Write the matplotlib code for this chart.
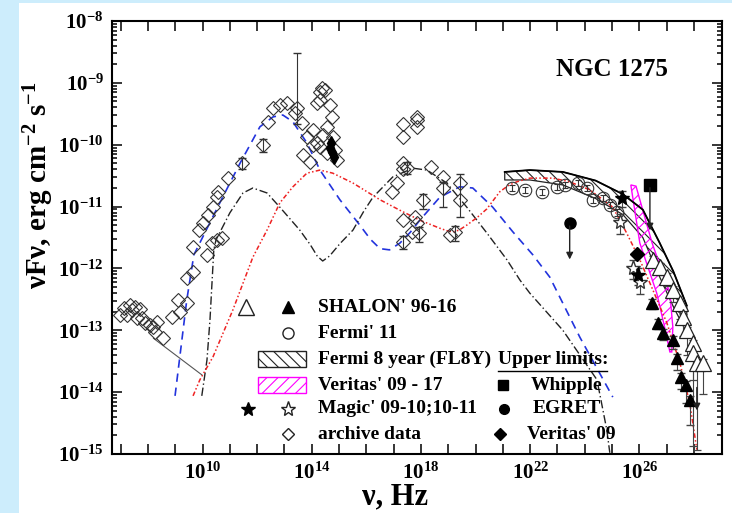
import numpy as np
import matplotlib.pyplot as plt
from matplotlib.patches import Rectangle, Polygon

plt.rcParams['font.family'] = 'Liberation Serif'
plt.rcParams['font.weight'] = 'bold'
plt.rcParams['mathtext.fontset'] = 'custom'
plt.rcParams['mathtext.rm'] = 'Liberation Serif:bold'
plt.rcParams['mathtext.it'] = 'Liberation Serif:bold'
plt.rcParams['mathtext.bf'] = 'Liberation Serif:bold'
plt.rcParams['mathtext.default'] = 'rm'
plt.rcParams['hatch.linewidth'] = 0.8

# ---- model curves (log10 nu, log10 nuFnu) ----
blue_x = [8.99, 9.42, 9.68, 10.63, 11.37, 12.10, 12.58, 12.94, 13.31, 13.82, 14.30, 15.03, 15.76, 16.15,
          16.50, 16.85, 17.23, 17.60, 17.96, 18.69, 19.42, 19.90, 20.63, 21.37, 22.10, 22.72, 23.82, 25.03]
blue_y = [-14.06, -12.51, -11.78, -10.94, -10.30, -9.71, -9.55, -9.52, -9.63, -9.97, -10.41, -10.89, -11.30, -11.53,
          -11.68, -11.70, -11.59, -11.42, -11.22, -10.85, -10.68, -10.70, -11.01, -11.41, -11.78, -12.14, -13.11, -14.08]

black_x = [9.97, 10.16, 10.27, 10.41, 10.49, 11.00, 11.48, 11.84, 12.36, 12.83, 13.56, 13.95, 14.20, 14.40, 14.65,
           15.03, 15.51, 15.90, 16.24, 16.97, 17.71, 18.22, 18.95, 19.68, 20.42, 21.15, 21.63, 21.99, 23.20, 24.45,
           24.81, 24.92]
black_y = [-14.06, -13.48, -12.83, -11.70, -11.54, -11.10, -10.78, -10.70, -10.78, -11.01, -11.38, -11.62, -11.80, -11.88, -11.80,
           -11.60, -11.38, -11.08, -10.85, -10.52, -10.38, -10.41, -10.62, -11.01, -11.43, -11.86, -12.19, -12.40, -13.00, -13.80,
           -14.61, -14.98]

red_x = [9.65, 9.90, 10.38, 11.11, 11.84, 12.36, 12.83, 13.31, 13.82, 14.30, 14.77, 15.51, 16.50, 17.23, 17.96,
         18.69, 18.95, 19.17, 19.40, 19.68, 20.05, 20.41, 20.65, 20.89, 21.20, 21.51, 21.99, 22.83, 23.45, 24.19,
         25.03, 25.54, 26.02, 26.50, 27.01, 27.49, 27.85, 28.11]
red_y = [-14.06, -13.80, -13.43, -12.67, -11.82, -11.38, -10.94, -10.68, -10.46, -10.41, -10.46, -10.62, -10.89, -11.06, -11.22,
         -11.35, -11.39, -11.41, -11.38, -11.30, -11.18, -11.04, -10.90, -10.76, -10.66, -10.60, -10.54, -10.54, -10.60, -10.73,
         -11.01, -11.43, -11.86, -12.35, -12.88, -13.53, -14.18, -14.93]

radio_fit_x = [8.20, 9.97]
radio_fit_y = [-13.13, -13.72]

# Fermi 8 year (FL8Y) band
fl8y_x = [21.07, 21.99, 23.20, 24.40, 25.40, 26.13, 26.75, 27.25, 27.74]
fl8y_hi = [-10.44, -10.41, -10.44, -10.58, -10.80, -11.05, -11.59, -12.05, -12.60]
fl8y_lo = [-10.57, -10.57, -10.65, -10.87, -11.13, -11.50, -12.14, -12.62, -13.04]

# Veritas' 09-17 bowtie outline
ver_x = [25.88, 26.47, 27.12, 27.23, 27.19, 27.12, 26.93, 26.64, 26.02, 25.69]
ver_y = [-10.67, -11.59, -12.40, -12.95, -13.35, -13.35, -12.95, -12.40, -11.59, -10.65]

# ---- data ----
fermi11_x = [21.33, 21.81, 22.43, 22.98, 23.28, 23.75, 24.08, 24.30, 24.67, 24.92, 25.18]
fermi11_y = [-10.70, -10.73, -10.76, -10.68, -10.65, -10.62, -10.70, -10.89, -10.86, -10.97, -11.09]

shalon_open_x = [26.50, 26.76, 27.01, 27.23, 27.49, 27.60, 27.74, 27.96, 27.96, 28.11, 28.33]
shalon_open_y = [-11.86, -11.98, -12.14, -12.35, -12.56, -12.79, -13.00, -13.21, -13.37, -13.53, -13.53]
shalon_open_err = [0.10, 0.12, 0.15, 0.20, 0.25, 0.30, 0.40, 0.60, 1.50, 1.40, 0.50]

shalon_fill_x = [26.46, 26.68, 26.86, 27.23, 27.38, 27.53, 27.70, 27.85]
shalon_fill_y = [-12.56, -12.88, -13.04, -13.16, -13.45, -13.75, -13.88, -14.13]
shalon_fill_err = [0.10, 0.10, 0.12, 0.15, 0.20, 0.20, 0.30, 0.40]

magic_fill_x = [25.37, 25.95]
magic_fill_y = [-10.86, -12.11]
magic_open_x = [25.29, 25.78, 26.03]
magic_open_y = [-11.25, -11.99, -12.22]

veritas09_x = [25.92]
veritas09_y = [-11.76]

whipple_x, whipple_y, whipple_to = [26.39], [-10.65], [-11.43]
egret_x, egret_y, egret_to = [23.45], [-11.27], [-11.90]
ul_x, ul_y, ul_to = [28.11], [-13.88], [-14.34]

archive_x = [6.97, 7.12, 7.23, 7.34, 7.41, 7.52, 7.70, 7.59, 7.78, 7.89, 8.07, 8.18, 8.26, 8.54, 8.33,
             8.88, 9.17, 9.10, 9.42, 9.42, 9.64, 10.16, 9.64, 9.86, 10.01, 10.19, 10.38, 10.52, 10.56, 10.93,
             11.44, 10.34, 10.52, 10.71, 12.21, 12.39, 12.58, 12.83, 13.09, 13.45, 13.38, 13.64, 13.82, 14.04,
             14.30, 14.38, 14.19, 14.30, 14.67, 14.74, 14.56, 14.78, 14.19, 13.67, 13.93, 14.30, 14.56, 14.92,
             14.85, 14.49, 14.04, 14.41,
             17.35, 17.35, 17.86, 17.86, 17.86, 17.35, 17.35, 17.49, 18.37, 17.13, 16.94, 18.81, 19.43, 18.07,
             17.35, 17.79, 17.86, 17.93, 17.67, 17.35, 19.06, 19.24, 19.43, 18.81]
archive_y = [-12.75, -12.64, -12.75, -12.59, -12.67, -12.62, -12.66, -12.80, -12.80, -12.88, -12.91, -12.95, -13.03, -13.12, -12.87,
             -12.79, -12.71, -12.51, -12.56, -12.15, -12.06, -11.78, -11.65, -11.38, -11.27, -11.14, -11.01, -10.85, -10.76, -10.54,
             -10.30, -11.59, -11.54, -11.51, -10.00, -9.63, -9.41, -9.36, -9.33, -9.41, -9.49, -9.65, -9.88, -9.76,
             -9.15, -9.08, -9.33, -9.28, -9.36, -9.55, -9.71, -9.88, -9.97, -10.17, -10.28, -10.04, -10.13, -10.25,
             -10.09, -9.12, -10.00, -9.84,
             -9.67, -9.88, -9.55, -9.60, -9.71, -10.30, -10.39, -10.38, -10.36, -10.62, -10.76, -10.70, -10.62, -10.89,
             -11.22, -11.17, -11.27, -11.43, -11.41, -11.57, -11.46, -11.41, -10.89, -10.52]

# a few archive points with visible error bars (value, lower dex, upper dex)
arch_err_x = [13.45, 12.21, 11.44, 17.35, 18.07, 18.81, 19.24, 19.43, 17.93, 17.49]
arch_err_y = [-9.41, -10.00, -10.30, -11.57, -10.89, -10.70, -11.41, -10.62, -11.43, -10.38]
arch_err_lo = [0.25, 0.12, 0.10, 0.12, 0.15, 0.30, 0.15, 0.55, 0.15, 0.10]
arch_err_hi = [0.90, 0.10, 0.08, 0.10, 0.10, 0.10, 0.10, 0.15, 0.10, 0.10]

blackpts_x = [14.67, 14.74, 14.81, 14.70]
blackpts_y = [-10.05, -10.12, -10.20, -9.98]

yticks = [-15, -14, -13, -12, -11, -10, -9, -8]
xlabel_decades = [10, 14, 18, 22, 26]


def p(v):
    return 10.0 ** np.asarray(v)


fig = plt.figure(figsize=(7.32, 5.13), dpi=100)
fig.patch.set_facecolor('#cdedfc')
fig.patches.append(Rectangle((19 / 732, 0), 1, 1 - 3 / 513, transform=fig.transFigure,
                             facecolor='white', edgecolor='none', zorder=-1))
ax = fig.add_axes([112 / 732, 1 - 454 / 513, 609.7 / 732, 433 / 513])
ax.set_xscale('log')
ax.set_yscale('log')

# model curves
ax.plot(p(blue_x), p(blue_y), color='#2233dd', lw=1.2, dashes=(5, 3.5))
ax.plot(p(black_x), p(black_y), color='#222222', lw=1.0, dashes=(6, 2, 1, 2))
ax.plot(p(red_x), p(red_y), color='#ee2222', lw=1.1, dashes=(3, 1.5, 1, 1.5, 1, 1.5))
ax.plot(p(radio_fit_x), p(radio_fit_y), color='#555555', lw=0.8)

# bands
ax.fill_between(p(fl8y_x), p(fl8y_lo), p(fl8y_hi), facecolor='none', edgecolor='#222222',
                hatch='\\\\\\', lw=0.9)
ax.plot(p(fl8y_x), p(fl8y_hi), color='black', lw=1.3)
ax.add_patch(Polygon(np.column_stack([p(ver_x), p(ver_y)]), closed=True, facecolor='none',
                     edgecolor='#ff00ff', hatch='///', lw=1.0))

# archive data
ax.errorbar(p(arch_err_x), p(arch_err_y),
            yerr=[p(arch_err_y) - p(np.array(arch_err_y) - arch_err_lo),
                  p(np.array(arch_err_y) + arch_err_hi) - p(arch_err_y)],
            fmt='none', ecolor='#333333', elinewidth=0.8, capsize=3)
ax.plot(p(archive_x), p(archive_y), 'D', ms=7, mfc='none', mec='#333333', mew=0.8)
ax.plot(p(blackpts_x), p(blackpts_y), 'd', ms=7, color='black')

# Fermi'11
ax.errorbar(p(fermi11_x), p(fermi11_y), yerr=0.12 * p(fermi11_y), fmt='o', ms=9,
            mfc='none', mec='#333333', ecolor='#333333', mew=0.8, elinewidth=0.8, capsize=2)

# SHALON
ax.errorbar(p(shalon_open_x), p(shalon_open_y),
            yerr=[p(shalon_open_y) - p(np.array(shalon_open_y) - shalon_open_err),
                  0.15 * p(shalon_open_y)],
            fmt='^', ms=11, mfc='white', mec='#222222', ecolor='#444444', mew=0.9,
            elinewidth=0.8, capsize=3)
ax.errorbar(p(shalon_fill_x), p(shalon_fill_y),
            yerr=[p(shalon_fill_y) - p(np.array(shalon_fill_y) - shalon_fill_err),
                  0.15 * p(shalon_fill_y)],
            fmt='^', ms=9, color='black', ecolor='#444444', elinewidth=0.8, capsize=3)

# Magic
ax.errorbar(p(magic_open_x), p(magic_open_y), yerr=0.35 * p(magic_open_y), fmt='*', ms=11,
            mfc='white', mec='#333333', ecolor='#444444', elinewidth=0.8, capsize=3)
ax.errorbar(p(magic_fill_x), p(magic_fill_y), yerr=0.3 * p(magic_fill_y), fmt='*', ms=11,
            color='black', ecolor='#444444', elinewidth=0.8, capsize=3)
ax.plot(p(veritas09_x), p(veritas09_y), 'D', ms=7, color='black')

# upper limits
for ux, uy, ut, mk in [(whipple_x, whipple_y, whipple_to, 's'), (egret_x, egret_y, egret_to, 'o'),
                       (ul_x, ul_y, ul_to, None)]:
    ax.annotate('', xy=(p(ux[0]), p(ut[0])), xytext=(p(ux[0]), p(uy[0])),
                arrowprops=dict(arrowstyle='-|>', color='#222222', lw=1.0, mutation_scale=10))
    if mk:
        ax.plot(p(ux), p(uy), mk, ms=8, color='black')

# axes
ax.set_xlim(10 ** 6.68, 10 ** 29.02)
ax.set_ylim(1e-15, 1e-8)
ax.set_xticks(p(np.arange(7, 29)))
ax.set_xticklabels(['$10^{%d}$' % d if d in xlabel_decades else '' for d in range(7, 29)])
ax.xaxis.set_minor_locator(plt.NullLocator())
ax.set_yticks(p(yticks))
ax.set_yticklabels(['$10^{%d}$' % d for d in yticks])
ax.tick_params(which='both', direction='in', top=True, right=True, width=1.1)
ax.tick_params(which='major', length=7, labelsize=15, pad=6)
ax.tick_params(which='minor', length=3.5)
for s in ax.spines.values():
    s.set_linewidth(1.5)

ax.set_ylabel('νFν, erg cm$^{-2}$ s$^{-1}$', fontsize=21, fontweight='bold')
ax.yaxis.set_label_coords(-0.092, 0.62)
ax.set_xlabel('ν, Hz', fontsize=22, fontweight='bold')
ax.xaxis.set_label_coords(0.464, -0.066)

ax.text(0.82, 0.887, 'NGC 1275', transform=ax.transAxes, fontsize=18, fontweight='bold',
        ha='center', va='center')

# legend drawn by hand
T = ax.transAxes
fs = 14
rows = [0.339, 0.279, 0.219, 0.159, 0.104, 0.046]
ax.plot(0.220, rows[0], '^', ms=12, mfc='white', mec='#222222', transform=T, clip_on=False)
ax.plot(0.289, rows[0], '^', ms=9, color='black', transform=T)
ax.text(0.338, rows[0], "SHALON' 96-16", transform=T, fontsize=fs, va='center')
ax.plot(0.289, rows[1], 'o', ms=8, mfc='white', mec='#222222', transform=T)
ax.text(0.338, rows[1], "Fermi' 11", transform=T, fontsize=fs, va='center')
ax.add_patch(Rectangle((0.239, rows[2] - 0.018), 0.079, 0.036, transform=T, facecolor='none',
                       edgecolor='#222222', hatch='\\\\\\', lw=1.0))
ax.text(0.338, rows[2], "Fermi 8 year (FL8Y)", transform=T, fontsize=fs, va='center')
ax.add_patch(Rectangle((0.239, rows[3] - 0.018), 0.079, 0.036, transform=T, facecolor='none',
                       edgecolor='#ff00ff', hatch='///', lw=1.0))
ax.text(0.338, rows[3], "Veritas' 09 - 17", transform=T, fontsize=fs, va='center')
ax.plot(0.223, rows[4], '*', ms=10, color='black', transform=T)
ax.plot(0.289, rows[4], '*', ms=11, mfc='white', mec='#222222', transform=T)
ax.text(0.338, rows[4], "Magic' 09-10;10-11", transform=T, fontsize=fs, va='center')
ax.plot(0.289, rows[5], 'D', ms=6, mfc='white', mec='#222222', transform=T)
ax.text(0.338, rows[5], "archive data", transform=T, fontsize=fs, va='center')

ax.text(0.633, rows[2], "Upper limits:", transform=T, fontsize=fs, va='center')
ax.plot([0.633, 0.812], [rows[2] - 0.028, rows[2] - 0.028], color='black', lw=1.0, transform=T)
ax.plot(0.641, rows[3], 's', ms=7, color='black', transform=T)
ax.text(0.687, rows[3], "Whipple", transform=T, fontsize=fs, va='center')
ax.plot(0.643, rows[4], 'o', ms=7, color='black', transform=T)
ax.text(0.690, rows[4], "EGRET", transform=T, fontsize=fs, va='center')
ax.plot(0.636, rows[5], 'D', ms=6, color='black', transform=T)
ax.text(0.681, rows[5], "Veritas' 09", transform=T, fontsize=fs, va='center')

plt.savefig('out.png', dpi=100, facecolor=fig.get_facecolor())
